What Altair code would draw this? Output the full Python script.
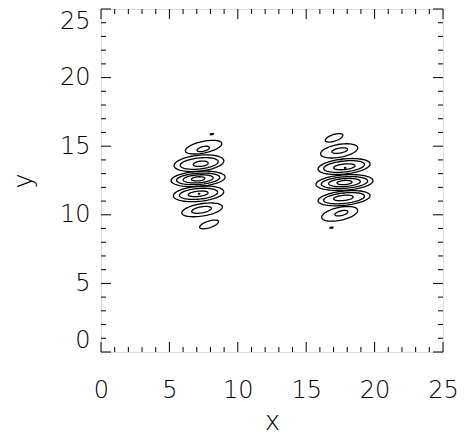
import altair as alt
import numpy as np
import pandas as pd

# Contour ellipses: centre (x, y), semi-axes (a, b), tilt (deg)
contour_cx = [8.10, 7.50, 7.47, 7.16, 7.18, 7.29, 7.10, 7.10, 7.10, 7.10,
              7.13, 7.13, 7.10, 7.17, 7.39, 7.35, 7.90,
              17.04, 17.41, 17.45, 17.77, 17.77, 17.79, 17.85, 17.80, 17.80,
              17.80, 17.80, 17.77, 17.77, 17.72, 17.45, 17.57, 16.85]
contour_cy = [15.88, 14.93, 14.80, 13.76, 13.74, 13.72, 12.62, 12.62, 12.62, 12.62,
              11.53, 11.53, 11.53, 11.53, 10.36, 10.36, 9.30,
              15.61, 14.66, 14.68, 13.52, 13.52, 13.50, 13.42, 12.35, 12.35,
              12.35, 12.35, 11.21, 11.21, 11.23, 10.07, 10.12, 9.06]
contour_a = [0.12, 1.36, 0.46, 1.83, 1.40, 0.55, 1.98, 1.58, 1.10, 0.49,
             1.85, 1.40, 0.73, 0.05, 1.50, 0.73, 0.72,
             0.67, 1.375, 0.58, 1.91, 1.50, 0.79, 0.05, 2.09, 1.70,
             1.16, 0.55, 1.91, 1.50, 0.72, 1.34, 0.49, 0.12]
contour_b = [0.04, 0.42, 0.17, 0.58, 0.40, 0.19, 0.55, 0.41, 0.29, 0.15,
             0.55, 0.39, 0.19, 0.03, 0.45, 0.22, 0.24,
             0.24, 0.47, 0.18, 0.55, 0.40, 0.20, 0.03, 0.56, 0.42,
             0.29, 0.15, 0.52, 0.38, 0.19, 0.47, 0.17, 0.04]
contour_tilt = [10, 12, 14, 6, 6, 6, 4, 4, 4, 4,
                5, 5, 6, 0, 9, 10, 18,
                18, 10, 10, 6, 6, 6, 0, 4, 4,
                4, 4, 6, 6, 6, 12, 14, 10]

major_ticks = [0, 5, 10, 15, 20, 25]
minor_ticks = [v for v in range(0, 26) if v % 5 != 0]

# Build the line table from the ellipse parameters
rows = []
t = np.linspace(0, 2 * np.pi, 73)
for i, (cx, cy, a, b, tl) in enumerate(zip(contour_cx, contour_cy, contour_a, contour_b, contour_tilt)):
    phi = np.deg2rad(tl)
    xs = cx + a * np.cos(t) * np.cos(phi) - b * np.sin(t) * np.sin(phi)
    ys = cy + a * np.cos(t) * np.sin(phi) + b * np.sin(t) * np.cos(phi)
    for k, (xv, yv) in enumerate(zip(xs, ys)):
        rows.append({"cid": i, "k": k, "x": float(xv), "y": float(yv)})
df = pd.DataFrame(rows)

major_df = pd.DataFrame({"x": major_ticks, "y": major_ticks})
minor_df = pd.DataFrame({"x": minor_ticks, "y": minor_ticks})

W, H = 342, 343
FONT = "DejaVu Sans"
FW = 200
TXT = "#000000"
xs_ = alt.Scale(domain=[0, 25], nice=False, zero=False)
ys_ = alt.Scale(domain=[0, 25], nice=False, zero=False)

x_axis = alt.Axis(title="x", values=major_ticks, ticks=False, tickSize=0, domain=False, grid=False,
                  labelFontSize=24, labelFont=FONT, labelFontWeight=FW, labelColor=TXT,
                  labelPadding=26, labelFlush=False, format="d",
                  titleFont=FONT, titleFontSize=26, titleFontWeight=FW, titleColor=TXT,
                  titleBaseline="alphabetic", titleY=77)
y_axis = alt.Axis(title="y", values=major_ticks, ticks=False, tickSize=0, domain=False, grid=False,
                  labelFontSize=24, labelFont=FONT, labelFontWeight=FW, labelColor=TXT,
                  labelPadding=11, labelFlush=True, format="d",
                  titleFont=FONT, titleFontSize=26, titleFontWeight=FW, titleColor=TXT,
                  titleBaseline="alphabetic", titleX=-70, titleAngle=270)

contours = alt.Chart(df).mark_line(color="black", strokeWidth=1.3).encode(
    x=alt.X("x:Q", scale=xs_, axis=x_axis),
    y=alt.Y("y:Q", scale=ys_, axis=y_axis),
    detail="cid:N",
    order="k:Q",
)


def tick_layers(data, length):
    base = alt.Chart(data).mark_rule(color="black", strokeWidth=1)
    bottom = base.encode(x=alt.X("x:Q", scale=xs_, axis=x_axis), y=alt.value(H), y2=alt.value(H - length))
    top = base.encode(x=alt.X("x:Q", scale=xs_, axis=x_axis), y=alt.value(0), y2=alt.value(length))
    left = base.encode(y=alt.Y("y:Q", scale=ys_, axis=y_axis), x=alt.value(0), x2=alt.value(length))
    right = base.encode(y=alt.Y("y:Q", scale=ys_, axis=y_axis), x=alt.value(W), x2=alt.value(W - length))
    return [bottom, top, left, right]


chart = alt.layer(
    contours, *tick_layers(major_df, 10), *tick_layers(minor_df, 5)
).properties(
    width=W, height=H,
    autosize=alt.AutoSizeParams(type="none"),
    padding={"left": 93, "top": 1, "right": 16, "bottom": 84},
).configure_view(
    stroke="black", strokeWidth=1.2
).configure(background="white")

chart.save("out.html", embed_options={"renderer": "svg", "actions": False})
